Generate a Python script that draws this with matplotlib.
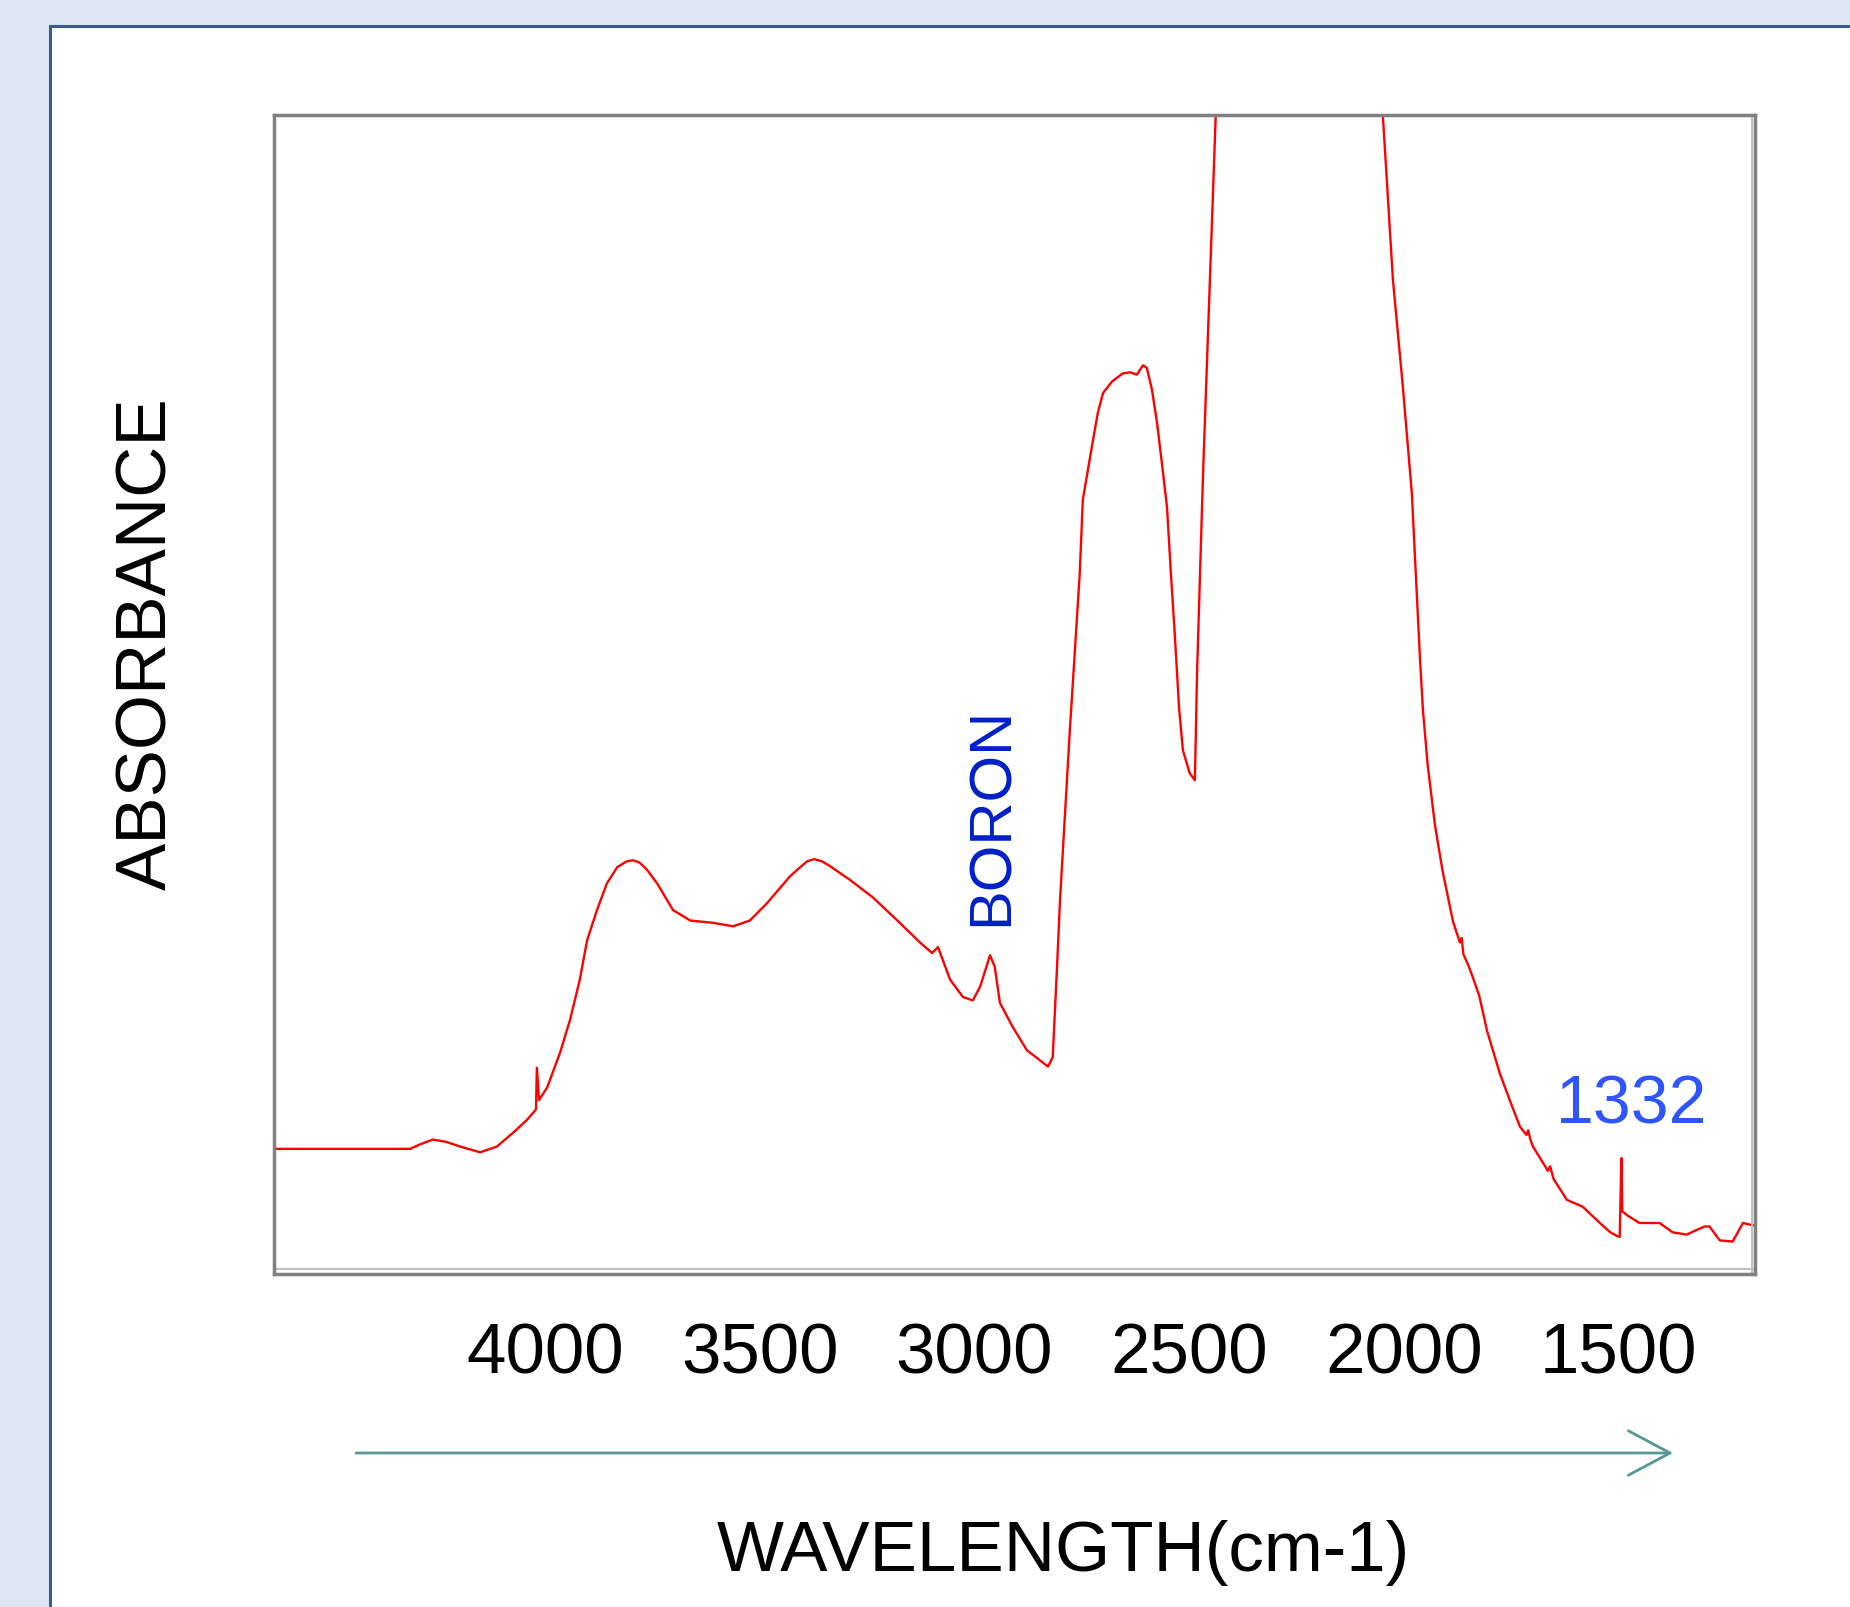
import numpy as np
import matplotlib.pyplot as plt
from matplotlib.patches import Rectangle, FancyArrowPatch
from matplotlib.lines import Line2D

plt.rcParams['font.family'] = ['Liberation Sans', 'DejaVu Sans']

# spectrum (x in axis units as labelled, y in % of frame height)
wavenumber = [4631, 4384, 4314, 4290, 4261, 4230, 4198, 4151, 4112, 4074, 4042,
              4021, 4019, 4014, 3995, 3965, 3942, 3919, 3902, 3879, 3856, 3832,
              3810, 3795, 3780, 3763, 3739, 3702, 3662, 3609, 3562, 3523, 3483, 3453,
              3430, 3406, 3390, 3374, 3355, 3337, 3290, 3237, 3174, 3127, 3099, 3085, 3074, 3057,
              3027, 3004, 2987, 2964, 2953, 2941, 2911, 2878, 2829, 2818, 2808,
              2801, 2778, 2755, 2748, 2736, 2724, 2713, 2701, 2680, 2655, 2638,
              2622, 2608, 2599, 2587, 2575, 2564, 2552, 2543, 2534, 2524, 2515,
              2499, 2487, 2482, 2475, 2468, 2457, 2438, 2406, 2243, 2103, 2049,
              2026, 2003, 1982, 1963, 1956, 1945, 1928, 1910, 1886, 1870, 1866,
              1862, 1850, 1840, 1825, 1807, 1777, 1754, 1730, 1715, 1711, 1706,
              1700, 1680, 1665, 1660, 1652, 1621, 1584, 1544, 1520, 1505, 1498,
              1494, 1492, 1488, 1482, 1452, 1405, 1375, 1342, 1319, 1300, 1289,
              1265, 1235, 1211, 1188]
absorbance = [10.8, 10.8, 10.8, 11.2, 11.6, 11.4, 11.0, 10.5, 11.0, 12.2, 13.3,
              14.2, 17.8, 15.0, 16.1, 19.1, 21.9, 25.4, 28.8, 31.4, 33.7, 35.1,
              35.6, 35.7, 35.5, 34.9, 33.7, 31.4, 30.5, 30.3, 30.0, 30.5, 32.0, 33.3,
              34.3, 35.1, 35.6, 35.8, 35.6, 35.2, 34.0, 32.5, 30.3, 28.6, 27.7, 28.2, 27.1, 25.4,
              23.9, 23.6, 24.8, 27.5, 26.5, 23.4, 21.3, 19.3, 17.9, 18.7, 26.5,
              32.3, 47.0, 60.5, 66.8, 69.4, 72.0, 74.3, 76.0, 77.0, 77.7, 77.8,
              77.6, 78.4, 78.2, 76.3, 73.4, 70.0, 66.2, 60.5, 55.3, 48.9, 45.2,
              43.2, 42.6, 51.9, 60.5, 69.1, 80.6, 100.5, 125.0, 145.0, 125.0, 99.7,
              85.8, 76.6, 67.4, 53.1, 48.6, 43.9, 38.7, 34.7, 30.4, 28.6, 29.0,
              27.6, 26.6, 25.6, 24.0, 21.0, 17.3, 15.0, 12.7, 12.0, 12.4, 11.6,
              11.0, 9.8, 8.9, 9.3, 8.2, 6.4, 5.8, 4.4, 3.6, 3.3, 3.2,
              10.0, 5.4, 5.3, 5.1, 4.4, 4.4, 3.6, 3.4, 3.8, 4.1, 4.1,
              2.9, 2.8, 4.4, 4.2]

xticks = [4000, 3500, 3000, 2500, 2000, 1500]
xlim = (4631, 1183)

fig = plt.figure(figsize=(18.5, 16.07), dpi=100, facecolor='#DCE6F2')

# white slide panel with dark blue edge on left and top
px, py = 50 / 1850, 1 - 26 / 1607
fig.patches.append(Rectangle((px, 0), 1 - px, py, transform=fig.transFigure,
                             facecolor='white', edgecolor='none', zorder=-5))
fig.lines.append(Line2D([px, px], [0, py], transform=fig.transFigure,
                        color='#385D8A', lw=2.2, zorder=-4))
fig.lines.append(Line2D([px, 1], [py, py], transform=fig.transFigure,
                        color='#385D8A', lw=2.2, zorder=-4))

ax = fig.add_axes([274 / 1850, 333 / 1607, 1481 / 1850, 1159 / 1607])
ax.plot(wavenumber, absorbance, color='#FF0000', lw=1.7)
ax.set_xlim(*xlim)
ax.set_ylim(0, 100)
ax.set_xticks(xticks)
ax.set_xticklabels([str(t) for t in xticks], fontsize=51)
ax.set_yticks([])
ax.tick_params(axis='x', length=0, pad=35)
for s in ax.spines.values():
    s.set_color('#808080')
    s.set_linewidth(2.5)
# light inner shadow on bottom and right edges
ax.plot([0, 1], [0.004, 0.004], transform=ax.transAxes, color='#C0C0C0', lw=1.5)
ax.plot([0.998, 0.998], [0, 1], transform=ax.transAxes, color='#C0C0C0', lw=1.5)

ax.text(2960, 30.0, 'BORON', rotation=90, color='#0020C8', fontsize=43,
        ha='center', va='bottom')
ax.text(1471, 13.0, '1332', color='#2F55FF', fontsize=49,
        ha='center', va='baseline')

fig.text(148 / 1850, 1 - 644 / 1607, 'ABSORBANCE', rotation=90, fontsize=51,
         ha='center', va='center')
fig.text(1063 / 1850, 1 - 1553 / 1607, 'WAVELENGTH(cm-1)', fontsize=51,
         ha='center', va='center')

arrow = FancyArrowPatch((356 / 1850, 1 - 1453 / 1607), (1673 / 1850, 1 - 1453 / 1607),
                        transform=fig.transFigure, arrowstyle='->,head_length=3.0,head_width=1.6',
                        mutation_scale=10, color='#5B9696', lw=2, shrinkA=0, shrinkB=0)
fig.patches.append(arrow)

plt.savefig('out.png', dpi=100, facecolor=fig.get_facecolor())
